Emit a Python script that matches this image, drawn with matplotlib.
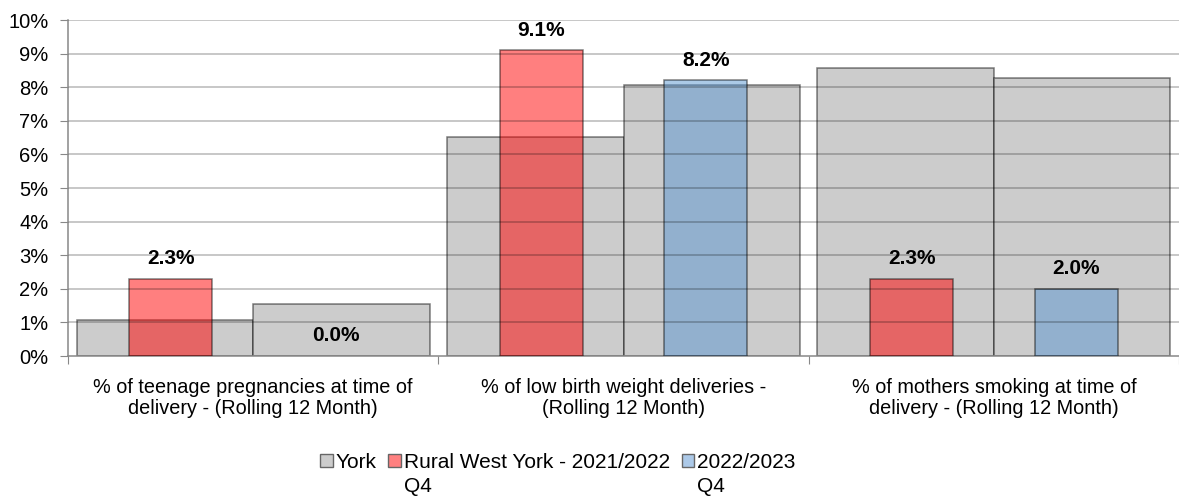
import numpy as np
import matplotlib
matplotlib.use("Agg")
import matplotlib.pyplot as plt
from matplotlib.ticker import FuncFormatter, FixedLocator
from matplotlib.patches import Patch

plt.rcParams['font.family'] = ['Liberation Sans', 'DejaVu Sans']

# Data (percent)
categories = ["% of teenage pregnancies at time of\ndelivery - (Rolling 12 Month)",
              "% of low birth weight deliveries -\n(Rolling 12 Month)",
              "% of mothers smoking at time of\ndelivery - (Rolling 12 Month)"]
york_2122 = [1.07, 6.53, 8.58]
york_2223 = [1.56, 8.07, 8.27]
rural_2122 = [2.3, 9.1, 2.3]
rural_2223 = [0.0, 8.2, 2.0]
legend_labels = ["York", "Rural West York - 2021/2022", "2022/2023"]
legend_suffix = ["", "Q4", "Q4"]

W, H = 1179, 497
fig = plt.figure(figsize=(W / 100, H / 100), dpi=100)
ax = fig.add_axes([68 / W, (H - 356) / H, (W - 68) / W, (356 - 20) / H])

x = np.arange(len(categories)) + 0.5
grey_w = 0.477
grey_off = 0.2385
col_w = 0.224
col_off = 0.222
edge = (0, 0, 0, 0.5)

ax.bar(x - grey_off, york_2122, width=grey_w, color='#cccccc', edgecolor=edge, linewidth=1.1, zorder=2)
ax.bar(x + grey_off, york_2223, width=grey_w, color='#cccccc', edgecolor=edge, linewidth=1.1, zorder=2)
ax.bar(x - col_off, rural_2122, width=col_w, color=(1, 0, 0, 0.5), edgecolor=edge, linewidth=1.1, zorder=3)
ax.bar(x + col_off, rural_2223, width=col_w, color=(0.35, 0.59, 0.82, 0.5), edgecolor=edge,
       linewidth=[1.1 if v > 0 else 0 for v in rural_2223], zorder=3)

for xs, vals in [(x - col_off, rural_2122), (x + col_off, rural_2223)]:
    for xi, v in zip(xs, vals):
        ax.annotate('%.1f%%' % v, (xi, v), xytext=(0, 14.5), textcoords='offset points',
                    ha='center', va='center', fontsize=15, fontweight='bold', zorder=5)

# gridlines drawn over the bars
for yv in range(1, 11):
    ax.axhline(yv, color=(0, 0, 0, 0.28), linewidth=1.1, zorder=4)

ax.set_xlim(0, 3)
ax.set_ylim(0, 10)
ax.set_yticks(np.arange(0, 11, 1))
ax.yaxis.set_major_formatter(FuncFormatter(lambda v, p: '%d%%' % v))
ax.xaxis.set_major_locator(FixedLocator([0, 1, 2, 3]))
ax.xaxis.set_minor_locator(FixedLocator(x))
ax.xaxis.set_major_formatter(FuncFormatter(lambda v, p: ''))
ax.set_xticklabels(categories, minor=True, linespacing=1.14)
ax.tick_params(axis='x', which='minor', length=0, pad=16, labelsize=14.3)
ax.tick_params(axis='x', which='major', length=6, color='#888888', direction='out')
ax.tick_params(axis='y', length=6, color='#888888', labelsize=14.5, pad=8)
for s in ['top', 'right']:
    ax.spines[s].set_visible(False)
for s in ['left', 'bottom']:
    ax.spines[s].set_color('#888888')
    ax.spines[s].set_linewidth(1.1)
ax.spines['left'].set_zorder(6)

# legend
handles = [Patch(facecolor='#cccccc', edgecolor='#666666'),
           Patch(facecolor='#ff8080', edgecolor='#666666'),
           Patch(facecolor='#acc9e8', edgecolor='#666666')]
leg = fig.legend(handles, legend_labels, loc='center', bbox_to_anchor=(558 / W, (H - 462) / H),
                 ncol=3, frameon=False, fontsize=15, handlelength=0.6, handleheight=0.6,
                 handletextpad=0.15, columnspacing=0.55, borderpad=0)
fig.canvas.draw()
r = fig.canvas.get_renderer()
for t, suf in zip(leg.get_texts(), legend_suffix):
    if suf:
        bb = t.get_window_extent(r)
        fig.text(bb.x0 / W, (H - 486) / H, suf, fontsize=15, ha='left', va='center')

fig.savefig('out.png', dpi=100)
